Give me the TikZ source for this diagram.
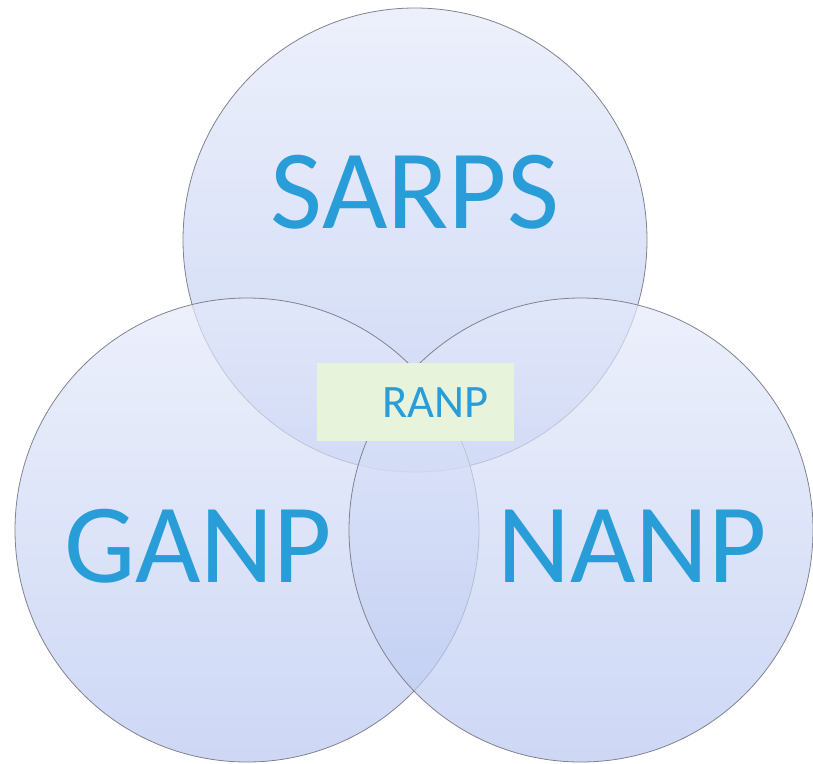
\documentclass[tikz,border=0pt]{standalone}
\usepackage{fontspec}
\setmainfont{Carlito}
\definecolor{vtop}{RGB}{229,234,250}
\definecolor{vbot}{RGB}{184,199,241}
\definecolor{vline}{RGB}{128,130,142}
\definecolor{vtext}{RGB}{41,157,216}
\definecolor{vbox}{RGB}{232,243,220}
\begin{document}
\begin{tikzpicture}[x=1pt,y=-1pt,
  setcircle/.style={top color=vtop,bottom color=vbot,fill opacity=0.7,draw=vline,line width=0.8pt},
  biglabel/.style={anchor=base,text=vtext,font=\fontsize{113}{113}\selectfont,inner sep=0pt},
  smalllabel/.style={anchor=base,text=vtext,font=\fontsize{46.5}{46.5}\selectfont,inner sep=0pt}]
\useasboundingbox (0,0) rectangle (813,763);
% three overlapping sets
\path[setcircle] (415,240) circle[radius=232];
\path[setcircle] (247,530) circle[radius=232];
\path[setcircle] (581,530) circle[radius=232];
% set labels
\node[biglabel] (sarps) at (415,228) {SARPS};
\node[biglabel] (ganp) at (198,582) {GANP};
\node[biglabel] (nanp) at (632,582) {NANP};
% centre overlap label
\fill[vbox] (317,363) rectangle (514,441);
\node[smalllabel] (ranp) at (435.5,417) {RANP};
\end{tikzpicture}
\end{document}
